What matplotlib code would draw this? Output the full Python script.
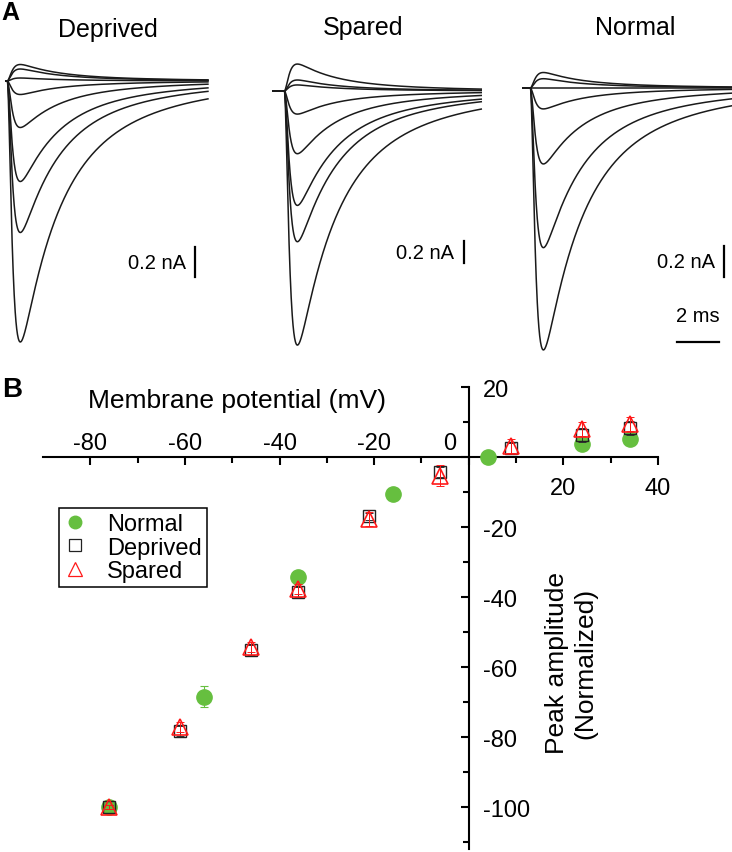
import numpy as np
import matplotlib.pyplot as plt
from matplotlib.lines import Line2D

plt.rcParams['font.family'] = ['Liberation Sans', 'DejaVu Sans']

W, H = 732, 853

# ---- panel A: peak amplitude (nA) of every trace
deprived_peaks = [0.11, 0.08, 0.02, -0.09, -0.31, -0.67, -1.01, -1.74]
spared_peaks = [0.245, 0.10, 0.055, -0.21, -0.57, -1.04, -1.37, -2.31]
normal_peaks = [0.10, 0.06, 0.0, -0.135, -0.49, -1.03, -1.69]
onset_ms = [0.11, 0.59, 0.40]        # Deprived, Spared, Normal
duration_ms = [9.7, 10.0, 10.2]

# current kinetics (ms)
TAU_RISE = 0.2
TAU_FAST = 1.6
TAU_SLOW = 5.0
FRAC_FAST = 0.7

# ---- panel B: normalized peak amplitude vs membrane potential
normal_mv = [-76, -56, -36, -16, 4, 24, 34]
normal_amp = [-100, -68.5, -34.3, -10.6, 0.0, 3.7, 5.1]
normal_err = [0.5, 3.0, 1.0, 0.5, 0.5, 0.5, 0.5]

deprived_mv = [-76, -61, -46, -36, -21, -6, 9, 24, 34]
deprived_amp = [-100, -78.3, -55.1, -38.6, -16.9, -4.3, 2.6, 6.3, 8.3]
deprived_err = [0.5, 1.5, 1.5, 1.5, 1.0, 1.5, 1.5, 2.0, 2.0]

spared_mv = [-76, -61, -46, -36, -21, -6, 9, 24, 34]
spared_amp = [-100, -77.2, -54.3, -37.7, -17.7, -5.4, 3.1, 8.0, 9.4]
spared_err = [0.5, 1.5, 1.5, 1.5, 2.0, 3.0, 2.0, 2.0, 2.0]

x_major = [-80, -60, -40, -20, 0, 20, 40]
x_minor = [-70, -50, -30, -10, 10, 30]
y_major = [-100, -80, -60, -40, -20, 0, 20]
y_minor = [-110, -90, -70, -50, -30, -10, 10]

GREEN = '#66bf3f'
RED = '#ff1a1a'
TRACE = '#1a1a1a'


def epsc_shape(t, onset):
    s = np.clip(t - onset, 0, None)
    rise = (1 - np.exp(-s / TAU_RISE)) ** 2
    decay = FRAC_FAST * np.exp(-s / TAU_FAST) + (1 - FRAC_FAST) * np.exp(-s / TAU_SLOW)
    g = rise * decay
    return g / g.max()


fig = plt.figure(figsize=(W / 100, H / 100), dpi=100)


def trace_axes(left, top, width, height, x0, y0, px_ms, px_na):
    # axes laid out in pixels so that every panel keeps its own nA scale
    ax = fig.add_axes([left / W, 1 - (top + height) / H, width / W, height / H])
    ax.set_xlim((left - x0) / px_ms, (left + width - x0) / px_ms)
    ax.set_ylim(-(top + height - y0) / px_na, (y0 - top) / px_na)
    ax.axis('off')
    return ax


# (left, top, width, height, trace start x, baseline y, px per ms, px per nA)
geoms = [
    (0, 40, 245, 320, 5, 82, 21, 150),
    (250, 40, 245, 320, 272, 92, 21, 110),
    (500, 40, 232, 330, 522, 89, 21, 155),
]
all_peaks = [deprived_peaks, spared_peaks, normal_peaks]
# scale bar position: (time, top of bar in nA)
bars = [(9.05, -1.107), (9.14, -1.364), (9.62, -1.019)]

for geom, peaks, on, dur, bar in zip(geoms, all_peaks, onset_ms, duration_ms, bars):
    ax = trace_axes(*geom)
    t = np.linspace(0, dur, 800)
    shape = epsc_shape(t, on)
    for a in peaks:
        ax.plot(t, a * shape, color=TRACE, lw=1.1, solid_capstyle='butt')
    bx, by = bar
    ax.plot([bx, bx], [by, by - 0.2], color='black', lw=1.6)
    ax.text(bx - 0.45, by - 0.1, '0.2 nA', ha='right', va='center', fontsize=14.5)
    if geom[0] == 500:
        ax.plot([7.38, 9.38], [-1.639, -1.639], color='black', lw=1.6)
        ax.text(8.38, -1.53, '2 ms', ha='center', va='bottom', fontsize=14.5)

fig.text(1 / W, 1 - 1 / H, 'A', ha='left', va='top', fontsize=18, fontweight='bold')
fig.text(108 / W, 1 - 37 / H, 'Deprived', ha='center', va='baseline', fontsize=18)
fig.text(363 / W, 1 - 35 / H, 'Spared', ha='center', va='baseline', fontsize=18)
fig.text(635 / W, 1 - 35 / H, 'Normal', ha='center', va='baseline', fontsize=18)

# ---- panel B
axb = fig.add_axes([43 / W, 1 - 850 / H, 615 / W, 462 / H])
axb.set_xlim(-90, 40)
axb.set_ylim(-112, 20)
for side in ['top', 'right']:
    axb.spines[side].set_visible(False)
axb.spines['left'].set_position(('data', 0))
axb.spines['bottom'].set_position(('data', 0))
for side in ['left', 'bottom']:
    axb.spines[side].set_linewidth(1.5)
axb.set_xticks(x_major)
axb.set_xticks(x_minor, minor=True)
axb.set_yticks(y_major)
axb.set_yticks(y_minor, minor=True)
axb.tick_params(which='both', direction='out', width=1.5, labelbottom=False, labelleft=False)
axb.tick_params(which='major', length=6)
axb.tick_params(which='minor', length=4)
axb.patch.set_alpha(0)

tick_fs = 17
for v in x_major:
    if v < 0:
        axb.annotate(f'{v}', (v, 0), xytext=(0, 6), textcoords='offset points',
                     ha='center', va='baseline', fontsize=tick_fs)
    elif v == 0:
        axb.annotate('0', (0, 0), xytext=(-13.5, 6), textcoords='offset points',
                     ha='center', va='baseline', fontsize=tick_fs)
    else:
        axb.annotate(f'{v}', (v, 0), xytext=(0, -26.5), textcoords='offset points',
                     ha='center', va='baseline', fontsize=tick_fs)
for v in y_major:
    if v == 0:
        continue
    axb.annotate(f'{v}', (0, v), xytext=(10.5, -2), textcoords='offset points',
                 ha='left', va='center', fontsize=tick_fs)

axb.errorbar(normal_mv, normal_amp, yerr=normal_err, fmt='none', ecolor=GREEN,
             elinewidth=0.8, capsize=3, capthick=0.8, zorder=2)
axb.plot(normal_mv, normal_amp, 'o', ms=11, color=GREEN, mec=GREEN, ls='none', zorder=3)
axb.errorbar(deprived_mv, deprived_amp, yerr=deprived_err, fmt='none', ecolor='#333333',
             elinewidth=0.7, capsize=3, capthick=0.7, zorder=4)
axb.plot(deprived_mv, deprived_amp, 's', ms=9, mfc='none', mec='#222222', mew=1.0,
         ls='none', zorder=4)
axb.errorbar(spared_mv, spared_amp, yerr=spared_err, fmt='none', ecolor=RED,
             elinewidth=0.7, capsize=3, capthick=0.7, zorder=5)
axb.plot(spared_mv, spared_amp, '^', ms=12, mfc='none', mec=RED, mew=1.2,
         ls='none', zorder=5)

handles = [
    Line2D([], [], marker='o', ls='none', ms=9, color=GREEN, mec=GREEN),
    Line2D([], [], marker='s', ls='none', ms=8, mfc='none', mec='#222222', mew=0.9),
    Line2D([], [], marker='^', ls='none', ms=10, mfc='none', mec=RED, mew=0.9),
]
leg = axb.legend(handles, ['Normal', 'Deprived', 'Spared'], loc='upper left',
                 bbox_to_anchor=(59 / W, 1 - 509 / H), bbox_transform=fig.transFigure,
                 borderaxespad=0, fontsize=17, frameon=True, fancybox=False,
                 edgecolor='black', framealpha=1, borderpad=0.22, handlelength=0.95,
                 handletextpad=0.85, labelspacing=0.06)
leg.get_frame().set_linewidth(1.1)

fig.text(2 / W, 1 - 377 / H, 'B', ha='left', va='top', fontsize=20, fontweight='bold')
fig.text(237 / W, 1 - 401 / H, 'Membrane potential (mV)', ha='center', va='center',
         fontsize=19)
fig.text(571 / W, 1 - 663 / H, 'Peak amplitude\n(Normalized)', ha='center', va='center',
         rotation=90, fontsize=19, linespacing=1.2)

fig.savefig('out.png', dpi=100)
